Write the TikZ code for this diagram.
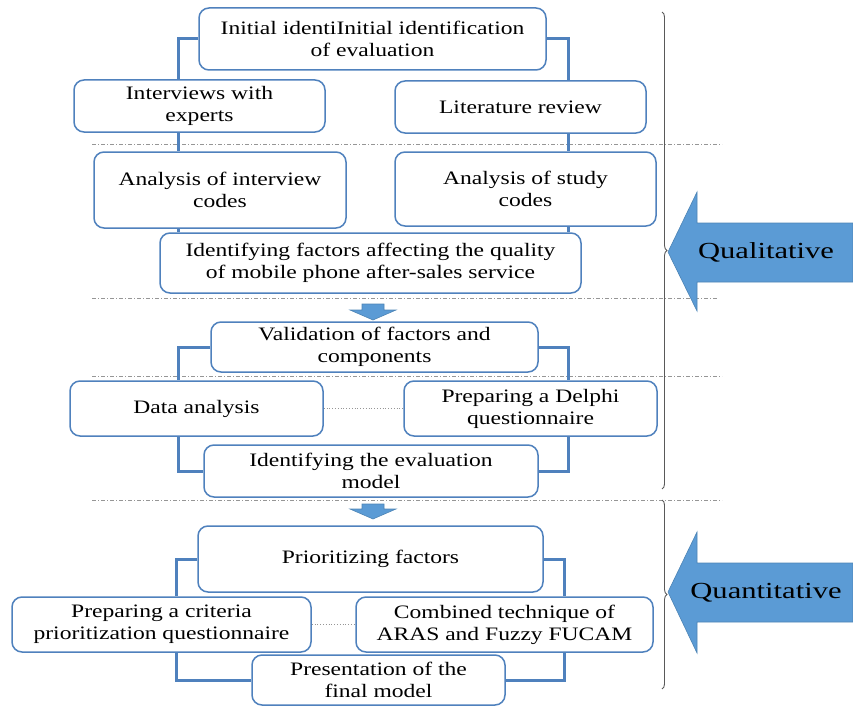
\documentclass[tikz,border=0pt]{standalone}
\usepackage{fontspec}
\setmainfont{Liberation Serif}[FakeStretch=1.24]
\newfontfamily\sidefont{Liberation Serif}[FakeStretch=1.33]
\usetikzlibrary{decorations.pathreplacing, positioning}
\definecolor{boxblue}{RGB}{79,129,189}
\definecolor{arrowblue}{RGB}{91,155,213}
\definecolor{sepgray}{RGB}{150,150,150}
\tikzstyle{stage}=[draw=boxblue, line width=1.5pt, rounded corners=10pt, fill=white, align=center, inner sep=2pt, font=\fontsize{19}{22}\selectfont]
\tikzstyle{link}=[draw=boxblue, line width=3pt]
\tikzstyle{tie}=[draw=sepgray, line width=0.8pt, dotted]
\tikzstyle{partline}=[draw=sepgray, line width=1pt, dash pattern=on 4pt off 2pt on 1pt off 2pt]
\tikzstyle{phase}=[fill=arrowblue, draw=arrowblue!85!black, line width=0.6pt]
\tikzstyle{phaselabel}=[font=\sidefont\fontsize{23}{26}\selectfont]
\tikzstyle{bracket}=[draw=black!65, line width=0.9pt, decorate, decoration={brace, amplitude=5pt}]

\begin{document}
\begin{tikzpicture}[x=1pt, y=-1pt]
            \useasboundingbox (0,0) rectangle (853,706);

            % rails for the side connectors
            \coordinate (rl) at (178,0);
            \coordinate (rr) at (568,0);
            \coordinate (ql) at (176,0);
            \coordinate (qr) at (564,0);

            % separators
            \draw[partline] (92,144) -- (722,144);
            \draw[partline] (92,298) -- (718,298);
            \draw[partline] (92,376) -- (722,376);
            \draw[partline] (92,500) -- (722,500);

            % qualitative part
            \node[stage, minimum width=347pt, minimum height=62pt] (init)    at (372.5,39)  {Initial identiInitial identification\\of evaluation};
            \node[stage, minimum width=251pt, minimum height=52pt] (intv)    at (199.5,106) {Interviews with\\experts};
            \node[stage, minimum width=251pt, minimum height=52pt] (lit)     at (520.5,107) {Literature review};
            \node[stage, minimum width=252pt, minimum height=76pt] (anint)   at (220,190)   {Analysis of interview\\codes};
            \node[stage, minimum width=261pt, minimum height=74pt] (anstudy) at (525.5,189) {Analysis of study\\codes};
            \node[stage, minimum width=421pt, minimum height=60pt] (idfac)   at (370.5,263) {Identifying factors affecting the quality\\of mobile phone after-sales service};

            \node[stage, minimum width=327pt, minimum height=50pt] (valid)   at (374.5,347) {Validation of factors and\\components};
            \node[stage, minimum width=253pt, minimum height=55pt] (data)    at (196.5,408.5) {Data analysis};
            \node[stage, minimum width=253pt, minimum height=55pt] (delphi)  at (530.5,408.5) {Preparing a Delphi\\questionnaire};
            \node[stage, minimum width=334pt, minimum height=52pt] (idmod)   at (371,471)   {Identifying the evaluation\\model};

            % quantitative part
            \node[stage, minimum width=345pt, minimum height=66pt] (prio)    at (370.5,559) {Prioritizing factors};
            \node[stage, minimum width=299pt, minimum height=55pt] (crit)    at (161.5,624.5) {Preparing a criteria\\prioritization questionnaire};
            \node[stage, minimum width=297pt, minimum height=55pt] (comb)    at (504.5,624.5) {Combined technique of\\ARAS and Fuzzy FUCAM};
            \node[stage, minimum width=253pt, minimum height=50pt] (pres)    at (378.5,680) {Presentation of the\\final model};

            % connectors
            \draw[link] (init.west) -| (intv.north -| rl);
            \draw[link] (intv.south -| rl) -- (anint.north -| rl);
            \draw[link] (anint.south -| rl) -- (idfac.north -| rl);
            \draw[link] (init.east) -| (lit.north -| rr);
            \draw[link] (lit.south -| rr) -- (anstudy.north -| rr);
            \draw[link] (anstudy.south -| rr) -- (idfac.north -| rr);

            \draw[link] (valid.west) -| (data.north -| rl);
            \draw[link] (data.south -| rl) |- (idmod.west);
            \draw[link] (valid.east) -| (delphi.north -| rr);
            \draw[link] (delphi.south -| rr) |- (idmod.east);
            \draw[tie] (data) -- (delphi);

            \draw[link] (prio.west) -| (crit.north -| ql);
            \draw[link] (crit.south -| ql) |- (pres.west);
            \draw[link] (prio.east) -| (comb.north -| qr);
            \draw[link] (comb.south -| qr) |- (pres.east);
            \draw[tie] (crit) -- (comb);

            % step arrows
            \path[phase] (362,304) -- (384,304) -- (384,310) -- (396,310) -- (373,320) -- (350,310) -- (362,310) -- cycle;
            \path[phase] (362,504) -- (384,504) -- (384,509) -- (396,509) -- (373,519) -- (350,509) -- (362,509) -- cycle;

            % braces and phase arrows
            \draw[bracket] (662,12) -- (662,489);
            \draw[bracket] (662,500) -- (662,689);
            \path[phase] (668,252) -- (697,192) -- (697,223) -- (853,223) -- (853,282) -- (697,282) -- (697,311) -- cycle;
            \path[phase] (668,592) -- (697,532) -- (697,563) -- (853,563) -- (853,622) -- (697,622) -- (697,653) -- cycle;
            \node[phaselabel] (qual)  at (766,252) {Qualitative};
            \node[phaselabel] (quant) at (766,593) {Quantitative};
          \end{tikzpicture}
\end{document}
